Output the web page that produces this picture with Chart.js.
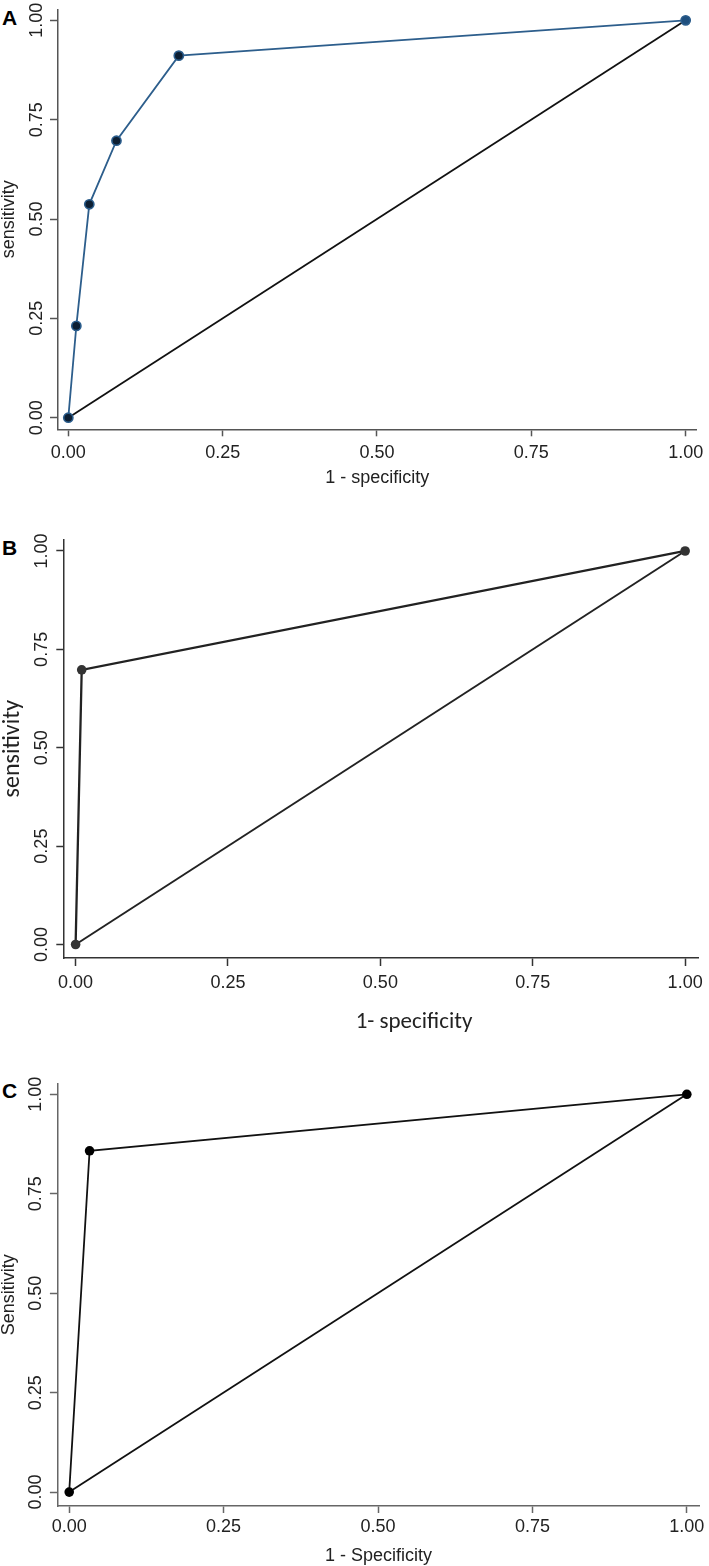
<!DOCTYPE html>
<html><head><meta charset="utf-8">
<script src="https://cdn.jsdelivr.net/npm/chart.js@4.4.1/dist/chart.umd.min.js"></script>
<style>
html,body{margin:0;padding:0;background:#fff;}
body{width:709px;height:1566px;position:relative;overflow:hidden;}
canvas{position:absolute;left:0;}
.lbl{position:absolute;font:bold 21px "Liberation Sans",Arial,sans-serif;color:#000;line-height:21px;}
.xt{position:absolute;transform:translateX(-50%);white-space:nowrap;font:23px Carlito,Lato,"Open Sans",sans-serif;color:#222;line-height:24px;}
</style></head><body>
<div class="lbl" style="left:2px;top:7px">A</div>
<div class="lbl" style="left:2px;top:537px">B</div>
<div class="lbl" style="left:2px;top:1080px">C</div>
<canvas id="cA" width="709" height="500" style="top:0px;width:709px;height:500px"></canvas>
<canvas id="cB" width="709" height="530" style="top:520px;width:709px;height:530px"></canvas>
<canvas id="cC" width="709" height="496" style="top:1070px;width:709px;height:496px"></canvas>
<div class="xt" id="titleB" style="left:414px;top:1008px"></div>
<script>
// ---- data ----
const tickValues = [0, 0.25, 0.5, 0.75, 1];
const tickLabels = ['0.00', '0.25', '0.50', '0.75', '1.00'];
const rocA_fpr  = [0, 0.013, 0.034, 0.078, 0.179, 1];
const rocA_sens = [0, 0.231, 0.537, 0.697, 0.911, 1];
const rocB_fpr  = [0, 0.010, 1];
const rocB_sens = [0, 0.698, 1];
const rocC_fpr  = [0, 0.033, 1];
const rocC_sens = [0, 0.858, 1];
const refLine_x = [0, 1];
const refLine_y = [0, 1];
const xTitles = ['1 - specificity', '1- specificity', '1 - Specificity'];
const yTitles = ['sensitivity', 'sensitivity', 'Sensitivity'];

document.getElementById('titleB').textContent = xTitles[1];

const pts = (xs, ys) => xs.map((x, i) => ({x: x, y: ys[i]}));
const SANS = '"Liberation Sans", Arial, sans-serif';
const CAL = 'Carlito, Lato, "Open Sans", sans-serif';

function measure(txt, font) {
  const c = document.createElement('canvas').getContext('2d');
  c.font = font; return c.measureText(txt).width;
}

function makeChart(id, p) {
  const wTick = measure('0.00', p.yTickFont.size + 'px ' + p.yTickFont.family);
  const yPad = p.W - p.yTickLen - p.yTickCenter - wTick / 2;
  const tickCb = v => { const i = tickValues.indexOf(v); return i >= 0 ? tickLabels[i] : ''; };
  const setTicks = s => { s.ticks = tickValues.map(v => ({value: v})); };
  return new Chart(document.getElementById(id), {
    type: 'scatter',
    data: {
      datasets: [
        {
          data: pts(p.xs, p.ys), showLine: true, tension: 0,
          borderColor: p.lineColor, borderWidth: p.lineWidth,
          pointRadius: p.pointRadius, pointBorderWidth: p.pointBorderWidth,
          pointBackgroundColor: p.pointFill, pointBorderColor: p.pointBorder,
          order: 1
        },
        {
          data: pts(refLine_x, refLine_y), showLine: true, tension: 0,
          borderColor: p.diagColor, borderWidth: p.diagWidth, pointRadius: 0,
          order: 2
        }
      ]
    },
    options: {
      responsive: false, animation: false, devicePixelRatio: 1,
      layout: {padding: {left: 0, top: p.T, right: p.R, bottom: p.Bt}},
      plugins: {legend: {display: false}, tooltip: {enabled: false}},
      scales: {
        x: {
          type: 'linear', min: p.xmin, max: p.xmax,
          afterBuildTicks: setTicks,
          afterFit: s => { s.height = p.H; },
          ticks: {callback: tickCb, autoSkip: false, maxRotation: 0, minRotation: 0,
                  font: {family: p.xTickFont.family, size: p.xTickFont.size, lineHeight: 1.2},
                  color: p.textColor, padding: p.xTickPad},
          grid: {display: true, drawOnChartArea: false, drawTicks: true, tickLength: p.xTickLen,
                 tickColor: p.axisColor, tickWidth: p.axisWidth, color: p.axisColor},
          border: {display: true, color: p.axisColor, width: p.axisWidth},
          title: {display: p.showXTitle, text: p.xTitle, color: p.textColor, padding: 0,
                  font: {family: p.xTitleFont.family, size: p.xTitleFont.size, lineHeight: p.xTitleFont.lh, weight: p.xTitleFont.weight || 'normal'}}
        },
        y: {
          type: 'linear', min: p.ymin, max: p.ymax,
          afterBuildTicks: setTicks,
          afterFit: s => { s.width = p.W; },
          ticks: {callback: tickCb, autoSkip: false, minRotation: 90, maxRotation: 90, crossAlign: 'center',
                  font: {family: p.yTickFont.family, size: p.yTickFont.size, lineHeight: 1.2},
                  color: p.textColor, padding: yPad},
          grid: {display: true, drawOnChartArea: false, drawTicks: true, tickLength: p.yTickLen,
                 tickColor: p.axisColor, tickWidth: p.axisWidth, color: p.axisColor},
          border: {display: true, color: p.axisColor, width: p.axisWidth},
          title: {display: true, text: p.yTitle, color: p.textColor, padding: {top: p.yTitlePadTop, bottom: 0},
                  font: {family: p.yTitleFont.family, size: p.yTitleFont.size, lineHeight: p.yTitleFont.lh, weight: p.yTitleFont.weight || 'normal'}}
        }
      }
    }
  });
}

makeChart('cA', {
  xs: rocA_fpr, ys: rocA_sens,
  W: 58, T: 9.3, R: 12, Bt: 11.2, H: 59.5,
  xmin: -0.0167, xmax: 1.0173, ymin: -0.0292, ymax: 1.0277,
  lineColor: '#2d5e8c', lineWidth: 1.8,
  pointRadius: 4.6, pointBorderWidth: 1.6,
  pointFill: ['#0d1f33', '#0d1f33', '#0d1f33', '#0d1f33', '#0d1f33', '#1f4f7e'],
  pointBorder: '#2b5d8c',
  diagColor: '#111', diagWidth: 1.8,
  axisColor: '#555', axisWidth: 1.5, textColor: '#222',
  xTickFont: {family: SANS, size: 18}, yTickFont: {family: SANS, size: 18},
  xTickLen: 7, yTickLen: 8, xTickPad: 5.6, yTickCenter: 36.7,
  showXTitle: true, xTitle: xTitles[0], yTitle: yTitles[0],
  xTitleFont: {family: SANS, size: 18, lh: 1.2}, yTitleFont: {family: SANS, size: 18, lh: 1.0}, yTitlePadTop: 0
});

makeChart('cB', {
  xs: rocB_fpr, ys: rocB_sens,
  W: 63.3, T: 19.3, R: 7, Bt: 16.2, H: 75.8,
  xmin: -0.0202, xmax: 1.0224, ymin: -0.0343, ymax: 1.0297,
  lineColor: '#222', lineWidth: 2.3,
  pointRadius: 4.8, pointBorderWidth: 0,
  pointFill: '#333', pointBorder: '#333',
  diagColor: '#222', diagWidth: 2.0,
  axisColor: '#333', axisWidth: 1.5, textColor: '#222',
  xTickFont: {family: SANS, size: 18}, yTickFont: {family: SANS, size: 18},
  xTickLen: 8, yTickLen: 7, xTickPad: 6.2, yTickCenter: 42,
  showXTitle: false, xTitle: xTitles[1], yTitle: yTitles[1],
  xTitleFont: {family: CAL, size: 23, lh: 1.2}, yTitleFont: {family: CAL, size: 24, lh: 1.0}, yTitlePadTop: 1
});

makeChart('cC', {
  xs: rocC_fpr, ys: rocC_sens,
  W: 57.9, T: 13.3, R: 10, Bt: 0, H: 60,
  xmin: -0.0183, xmax: 1.0197, ymin: -0.035, ymax: 1.0277,
  lineColor: '#111', lineWidth: 1.8,
  pointRadius: 4.8, pointBorderWidth: 0,
  pointFill: '#000', pointBorder: '#000',
  diagColor: '#111', diagWidth: 1.8,
  axisColor: '#666', axisWidth: 1.5, textColor: '#222',
  xTickFont: {family: SANS, size: 18}, yTickFont: {family: SANS, size: 18},
  xTickLen: 7, yTickLen: 8, xTickPad: 3.2, yTickCenter: 36,
  showXTitle: true, xTitle: xTitles[2], yTitle: yTitles[2],
  xTitleFont: {family: SANS, size: 18, lh: 1.1}, yTitleFont: {family: SANS, size: 18, lh: 0.95}, yTitlePadTop: 0
});
</script>
</body></html>
